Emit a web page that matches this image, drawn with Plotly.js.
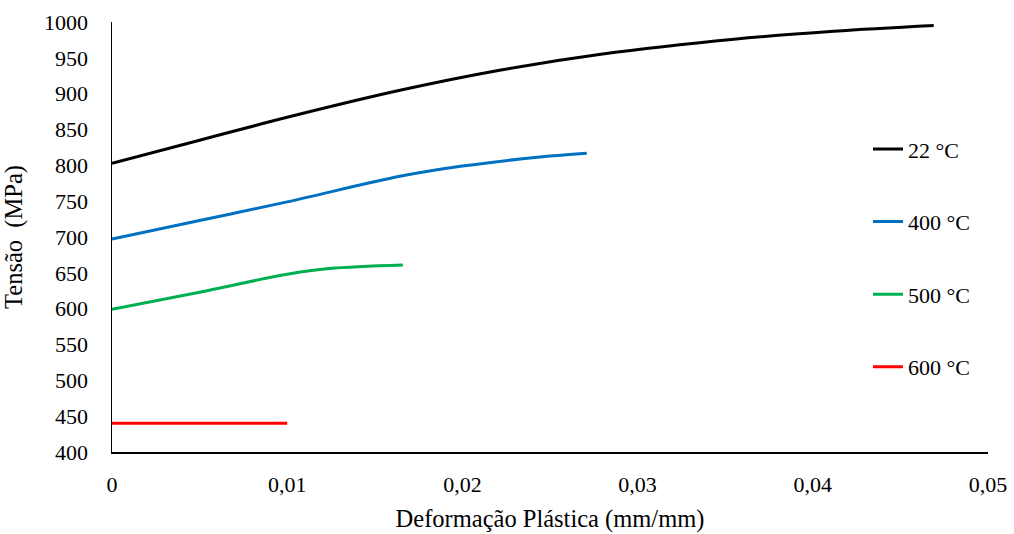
<!DOCTYPE html>
<html>
<head>
<meta charset="utf-8">
<script src="https://cdn.plot.ly/plotly-3.0.1.min.js"></script>
<style>html,body{margin:0;padding:0;background:#fff;}#chart{width:1014px;height:534px;}</style>
</head>
<body>
<div id="chart"></div>
<script>
// Data
const seriesNames = ["22 °C", "400 °C", "500 °C", "600 °C"];
const x22 = [0, 0.005, 0.01, 0.0165, 0.0222, 0.0279, 0.0355, 0.0412, 0.0469];
const y22 = [803, 835, 867, 905, 933, 955, 976, 987, 995];
const x400 = [0, 0.005, 0.01, 0.0165, 0.02, 0.025, 0.0271];
const y400 = [697, 723, 749, 785, 799, 813, 817];
const x500 = [0, 0.005, 0.01, 0.0124, 0.0166];
const y500 = [599, 623, 648, 656, 661];
const x600 = [0, 0.01];
const y600 = [440, 440];
const xTickVals = [0, 0.01, 0.02, 0.03, 0.04, 0.05];
const xTickText = ["0", "0,01", "0,02", "0,03", "0,04", "0,05"];
const yTickVals = [400, 450, 500, 550, 600, 650, 700, 750, 800, 850, 900, 950, 1000];

const colors = ["#000000", "#0070C0", "#00B050", "#FF0000"];
const xs = [x22, x400, x500, x600];
const ys = [y22, y400, y500, y600];

const traces = xs.map((x, i) => ({
  x: x, y: ys[i], name: seriesNames[i], mode: "lines", type: "scatter",
  legendgroup: "g" + i,
  line: {color: colors[i], width: 3, shape: "spline"}
}));

const fam = "Liberation Serif, Times New Roman, serif";
const font = {family: fam, size: 22, color: "#000"};
const tfont = {family: fam, size: 24.5, color: "#000"};

const layout = {
  width: 1014, height: 534,
  margin: {l: 112, r: 26, t: 22, b: 82},
  paper_bgcolor: "#fff", plot_bgcolor: "#fff",
  font: font,
  showlegend: true,
  legend: {x: 0.863, y: 0.753, xanchor: "left", yanchor: "top", font: font,
           tracegroupgap: 41, bgcolor: "rgba(0,0,0,0)"},
  xaxis: {
    range: [0, 0.05], tickvals: xTickVals, ticktext: xTickText,
    showgrid: false, zeroline: false, showline: true, linecolor: "#000", linewidth: 1.5,
    ticks: "", ticklabelstandoff: 12, tickfont: font,
    title: {text: "Deformação Plástica (mm/mm)", font: tfont, standoff: 14}
  },
  yaxis: {
    range: [400, 1000], tickvals: yTickVals,
    showgrid: false, zeroline: false, showline: true, linecolor: "#000", linewidth: 1.5,
    ticks: "", ticklabelstandoff: 18, tickfont: font,
    title: {text: "Tensão  (MPa)", font: tfont, standoff: 14}
  }
};

Plotly.newPlot("chart", traces, layout, {displayModeBar: false, staticPlot: true});
</script>
</body>
</html>
